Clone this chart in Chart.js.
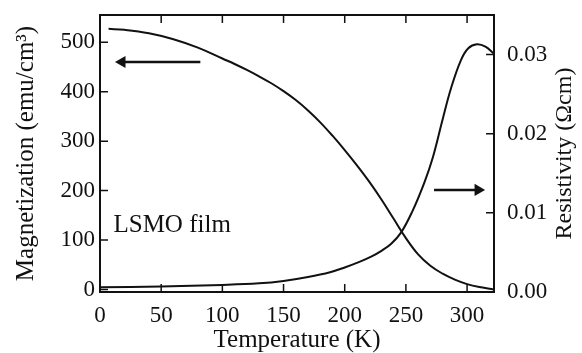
<!DOCTYPE html>
<html>
<head>
<meta charset="utf-8">
<script src="https://cdn.jsdelivr.net/npm/chart.js@4/dist/chart.umd.min.js"></script>
<style>
  html, body { margin: 0; padding: 0; background: #fff; }
  #wrap { width: 582px; height: 353px; }
</style>
</head>
<body>
<div id="wrap"><canvas id="chart"></canvas></div>
<script>
// magnetization vs temperature
const magT = [7, 20, 40, 60, 80, 100, 110, 120, 130, 140, 150, 160, 170, 180, 190, 200, 210, 220, 230, 240, 250, 260, 270, 280, 290, 300, 310, 320, 322]
const magM = [527, 525, 518, 506, 489, 467, 456, 444, 431, 417, 401, 383, 362, 338, 311, 282, 251, 218, 182, 143, 104, 71, 48, 32, 20, 11, 5, 1, 0]

// resistivity vs temperature
const resT = [0, 50, 100, 130, 150, 170, 188, 200, 212, 222, 230, 238, 246, 255, 265, 272, 280, 287, 295, 301, 308, 315, 322]
const resR = [0.0006, 0.0007, 0.0009, 0.0011, 0.0014, 0.0019, 0.0025, 0.0031, 0.0038, 0.0045, 0.0052, 0.0061, 0.0075, 0.0101, 0.0138, 0.0170, 0.0218, 0.0258, 0.0293, 0.0308, 0.0313, 0.0310, 0.0301]

// arrows pointing at each curve's axis
const leftArrowT = [82, 18]
const leftArrowM = [460, 460]
const rightArrowT = [273, 309]
const rightArrowR = [0.0129, 0.0129]

const xTicks = [0, 50, 100, 150, 200, 250, 300]
const magTicks = [0, 100, 200, 300, 400, 500]
const resTicks = [0, 0.01, 0.02, 0.03]

const label = { text: 'LSMO film', t: 11, m: 130 }

const ink = '#111'
const serif = "'Liberation Serif', 'Times New Roman', serif"
const tickFont = { family: serif, size: 23, lineHeight: 1 }
const titleFont = { family: serif, size: 25, lineHeight: 1 }

const pts = (xs, ys) => xs.map((x, i) => ({ x, y: ys[i] }))
const fixTicks = arr => scale => { scale.ticks = arr.map(v => ({ value: v })) }

const frame = {
  id: 'frame',
  afterDraw (chart) {
    const { ctx, chartArea: a, scales } = chart
    ctx.save()
    ctx.strokeStyle = ink
    ctx.lineWidth = 2
    ctx.strokeRect(a.left, a.top, a.right - a.left, a.bottom - a.top)
    const len = 8
    ctx.lineWidth = 1.5
    ctx.beginPath()
    xTicks.forEach(v => {
      const x = scales.x.getPixelForValue(v)
      ctx.moveTo(x, a.bottom); ctx.lineTo(x, a.bottom - len)
      ctx.moveTo(x, a.top); ctx.lineTo(x, a.top + len)
    })
    magTicks.forEach(v => {
      const y = scales.yM.getPixelForValue(v)
      ctx.moveTo(a.left, y); ctx.lineTo(a.left + len, y)
    })
    resTicks.forEach(v => {
      const y = scales.yR.getPixelForValue(v)
      ctx.moveTo(a.right, y); ctx.lineTo(a.right - len, y)
    })
    ctx.stroke()

    ctx.fillStyle = ink
    ctx.font = '25px ' + serif
    ctx.textBaseline = 'middle'
    ctx.textAlign = 'left'
    ctx.fillText(label.text, scales.x.getPixelForValue(label.t), scales.yM.getPixelForValue(label.m))

    // right axis title reads bottom to top
    ctx.font = '24px ' + serif
    ctx.translate(565, (a.top + a.bottom) / 2)
    ctx.rotate(-Math.PI / 2)
    ctx.textAlign = 'center'
    ctx.fillText('Resistivity (Ωcm)', 0, 0)
    ctx.restore()
  }
}

const lineStyle = { borderColor: ink, borderWidth: 2, pointRadius: 0, fill: false, tension: 0.4 }

new Chart(document.getElementById('chart'), {
  type: 'line',
  data: {
    datasets: [
      { ...lineStyle, data: pts(magT, magM), yAxisID: 'yM' },
      { ...lineStyle, data: pts(resT, resR), yAxisID: 'yR' },
      {
        data: pts(leftArrowT, leftArrowM), yAxisID: 'yM',
        borderColor: ink, borderWidth: 2.5, backgroundColor: ink,
        pointStyle: 'triangle', pointRadius: [0, 7], pointRotation: -90, pointBorderWidth: 0
      },
      {
        data: pts(rightArrowT, rightArrowR), yAxisID: 'yR',
        borderColor: ink, borderWidth: 2.5, backgroundColor: ink,
        pointStyle: 'triangle', pointRadius: [0, 7], pointRotation: 90, pointBorderWidth: 0
      }
    ]
  },
  options: {
    responsive: true,
    maintainAspectRatio: false,
    animation: false,
    events: [],
    layout: { padding: { top: 15, left: 0, right: 0, bottom: 0 } },
    plugins: { legend: { display: false }, tooltip: { enabled: false } },
    scales: {
      x: {
        type: 'linear', min: 0, max: 322,
        afterBuildTicks: fixTicks(xTicks),
        afterFit (s) { s.height = 61; s.paddingLeft = 0; s.paddingRight = 0 },
        grid: { display: false, drawTicks: false },
        border: { display: false },
        ticks: { color: ink, font: tickFont, padding: 12 },
        title: { display: true, text: 'Temperature (K)', color: ink, font: titleFont, padding: { top: 0, bottom: 0 } }
      },
      yM: {
        type: 'linear', position: 'left', min: -5, max: 555,
        afterBuildTicks: fixTicks(magTicks),
        afterFit (s) { s.width = 100; s.paddingTop = 0; s.paddingBottom = 0 },
        grid: { display: false, drawTicks: false },
        border: { display: false },
        ticks: { color: ink, font: tickFont, padding: 5 },
        title: { display: true, text: 'Magnetization (emu/cm³)', color: ink, font: titleFont, padding: { top: 14, bottom: 0 } }
      },
      yR: {
        type: 'linear', position: 'right', min: 0, max: 0.035,
        afterBuildTicks: fixTicks(resTicks),
        afterFit (s) { s.width = 88; s.paddingTop = 0; s.paddingBottom = 0 },
        grid: { display: false, drawTicks: false },
        border: { display: false },
        ticks: { color: ink, font: tickFont, padding: 13, callback: v => v.toFixed(2) }
      }
    }
  },
  plugins: [frame]
})
</script>
</body>
</html>
